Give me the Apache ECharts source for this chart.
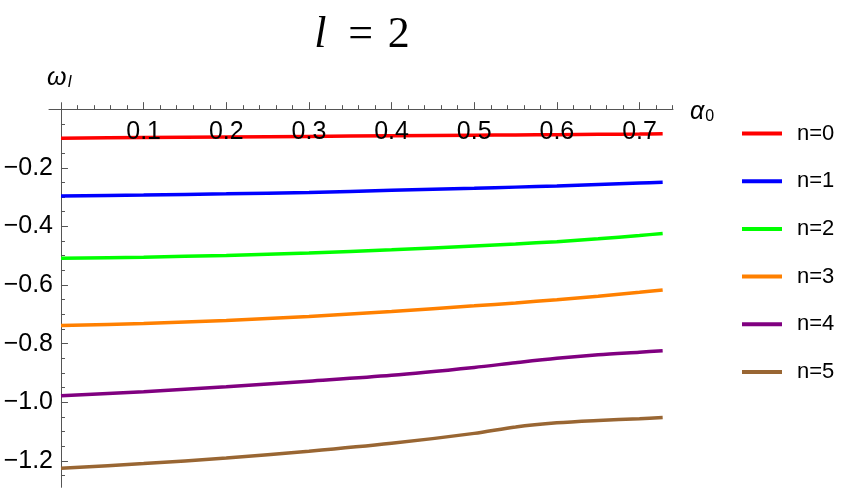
<!DOCTYPE html>
<html>
<head>
<meta charset="utf-8">
<script src="https://cdn.jsdelivr.net/npm/echarts@6/dist/echarts.min.js"></script>
<style>html,body{margin:0;padding:0;background:#fff}#c{width:850px;height:492px}</style>
</head>
<body>
<div id="c"></div>
<script>
const xs = [0, 0.1, 0.2, 0.3, 0.4, 0.5, 0.55, 0.6, 0.65, 0.7, 0.728];
const seriesNames = ['n=0', 'n=1', 'n=2', 'n=3', 'n=4', 'n=5'];
const n0 = [-0.099, -0.097, -0.095, -0.093, -0.091, -0.089, -0.088, -0.087, -0.086, -0.085, -0.084];
const n1 = [-0.2966, -0.293, -0.289, -0.284, -0.277, -0.270, -0.266, -0.262, -0.257, -0.252, -0.249];
const n2 = [-0.509, -0.505, -0.499, -0.491, -0.480, -0.467, -0.460, -0.452, -0.442, -0.431, -0.424];
const n3 = [-0.738, -0.731, -0.721, -0.707, -0.690, -0.671, -0.661, -0.650, -0.638, -0.625, -0.617];
const n4 = [-0.978, -0.964, -0.947, -0.928, -0.908, -0.881, -0.865, -0.850, -0.838, -0.829, -0.824];
const n5 = [-1.225, -1.209, -1.190, -1.167, -1.140, -1.106, -1.084, -1.070, -1.062, -1.056, -1.052];
const xMajorTicks = [0.1, 0.2, 0.3, 0.4, 0.5, 0.6, 0.7];
const xMinorTicks = [0.02, 0.04, 0.06, 0.08, 0.12, 0.14, 0.16, 0.18, 0.22, 0.24, 0.26, 0.28,
  0.32, 0.34, 0.36, 0.38, 0.42, 0.44, 0.46, 0.48, 0.52, 0.54, 0.56, 0.58, 0.62, 0.64, 0.66, 0.68, 0.72, 0.74];
const yMajorTicks = [-1.2, -1.0, -0.8, -0.6, -0.4, -0.2];
const yMinorTicks = [-1.25, -1.15, -1.1, -1.05, -0.95, -0.9, -0.85, -0.75, -0.7, -0.65,
  -0.55, -0.5, -0.45, -0.35, -0.3, -0.25, -0.15, -0.1, -0.05];
const colors = ['#ff0000', '#0000ff', '#00ff00', '#ff8000', '#800080', '#996633'];

const allSeries = [n0, n1, n2, n3, n4, n5];
const axisColor = '#555';
const fmt = v => (Math.round(v * 10) / 10).toFixed(1).replace('-', '\u2212');

// axis ranges and grid box
const X_MIN = -0.0145, X_MAX = 0.7405, Y_MIN = -1.29, Y_MAX = 0.022;
const G = {left: 49, right: 177, top: 102.7, bottom: 4.7};
const gw = 850 - G.left - G.right, gh = 492 - G.top - G.bottom;
const zeroX = (0 - X_MIN) / (X_MAX - X_MIN) * gw;   // px from grid left to x=0
const zeroY = (Y_MAX - 0) / (Y_MAX - Y_MIN) * gh;   // px from grid top to y=0

const chart = echarts.init(document.getElementById('c'), null, {renderer: 'canvas'});
chart.setOption({
  animation: false,
  backgroundColor: '#fff',
  grid: Object.assign({containLabel: false, outerBoundsMode: 'none'}, G),
  legend: {
    orient: 'vertical', left: 742, top: 122.5, padding: 0,
    itemWidth: 40, itemHeight: 4, itemGap: 25.7, icon: 'rect',
    textStyle: {fontSize: 22, lineHeight: 20, color: '#000', fontFamily: 'Liberation Sans', padding: [0, 0, 0, 10]},
    data: seriesNames
  },
  xAxis: [{
    type: 'value', min: X_MIN, max: X_MAX, position: 'top', offset: -zeroY, zlevel: 1, z: 5,
    axisLine: {onZero: false, lineStyle: {color: axisColor, width: 1}},
    axisTick: {inside: false, length: 7, customValues: xMajorTicks, lineStyle: {color: axisColor}},
    axisLabel: {inside: true, customValues: xMajorTicks, formatter: fmt, fontSize: 25, color: '#000', margin: 10, fontFamily: 'Liberation Sans'},
    splitLine: {show: false}
  }, {
    type: 'value', min: X_MIN, max: X_MAX, position: 'bottom', offset: -(gh - zeroY),
    axisLine: {onZero: false, lineStyle: {color: axisColor, opacity: 0}},
    axisTick: {inside: true, length: 4, customValues: xMinorTicks, lineStyle: {color: axisColor}},
    axisLabel: {show: false},
    splitLine: {show: false}
  }],
  yAxis: [{
    type: 'value', min: Y_MIN, max: Y_MAX, position: 'left', offset: -zeroX,
    axisLine: {onZero: false, lineStyle: {color: axisColor, width: 1}},
    axisTick: {inside: true, length: 7, customValues: yMajorTicks, lineStyle: {color: axisColor}},
    axisLabel: {customValues: yMajorTicks, formatter: fmt, fontSize: 25, color: '#000', margin: 8, fontFamily: 'Liberation Sans'},
    splitLine: {show: false}
  }, {
    type: 'value', min: Y_MIN, max: Y_MAX, position: 'right', offset: -(gw - zeroX),
    axisLine: {onZero: false, lineStyle: {color: axisColor, opacity: 0}},
    axisTick: {inside: false, length: 4, customValues: yMinorTicks, lineStyle: {color: axisColor}},
    axisLabel: {show: false},
    splitLine: {show: false}
  }],
  graphic: [{
    type: 'text', x: 362, y: 35,
    style: {
      text: '{i|l}  = \u200a2', textAlign: 'center', textVerticalAlign: 'middle',
      font: '44px "Liberation Serif"', fill: '#000',
      rich: {i: {fontStyle: 'italic', fontSize: 44, fontFamily: 'Liberation Serif'}}
    }
  }, {
    type: 'text', x: 47, y: 78,
    style: {
      text: '{w|ω}{s|I}', textVerticalAlign: 'middle', fill: '#000',
      font: 'italic 25px "Liberation Sans"',
      rich: {
        w: {fontStyle: 'italic', fontSize: 25, fontFamily: 'Liberation Sans'},
        s: {fontStyle: 'italic', fontSize: 16, fontFamily: 'Liberation Sans', padding: [9, 0, 0, 1]}
      }
    }
  }, {
    type: 'text', x: 690, y: 112,
    style: {
      text: '{a|α}{s|0}', textVerticalAlign: 'middle', fill: '#000',
      font: 'italic 25px "Liberation Sans"',
      rich: {
        a: {fontStyle: 'italic', fontSize: 25, fontFamily: 'Liberation Sans'},
        s: {fontSize: 16, fontFamily: 'Liberation Sans', padding: [9, 0, 0, 1]}
      }
    }
  }],
  series: allSeries.map((vals, i) => ({
    name: seriesNames[i], type: 'line', xAxisIndex: 0, yAxisIndex: 0,
    data: xs.map((x, j) => [x, vals[j]]),
    showSymbol: false, smooth: 0.3,
    lineStyle: {width: 3.5, color: colors[i]},
    itemStyle: {color: colors[i]}
  }))
});
</script>
</body>
</html>
